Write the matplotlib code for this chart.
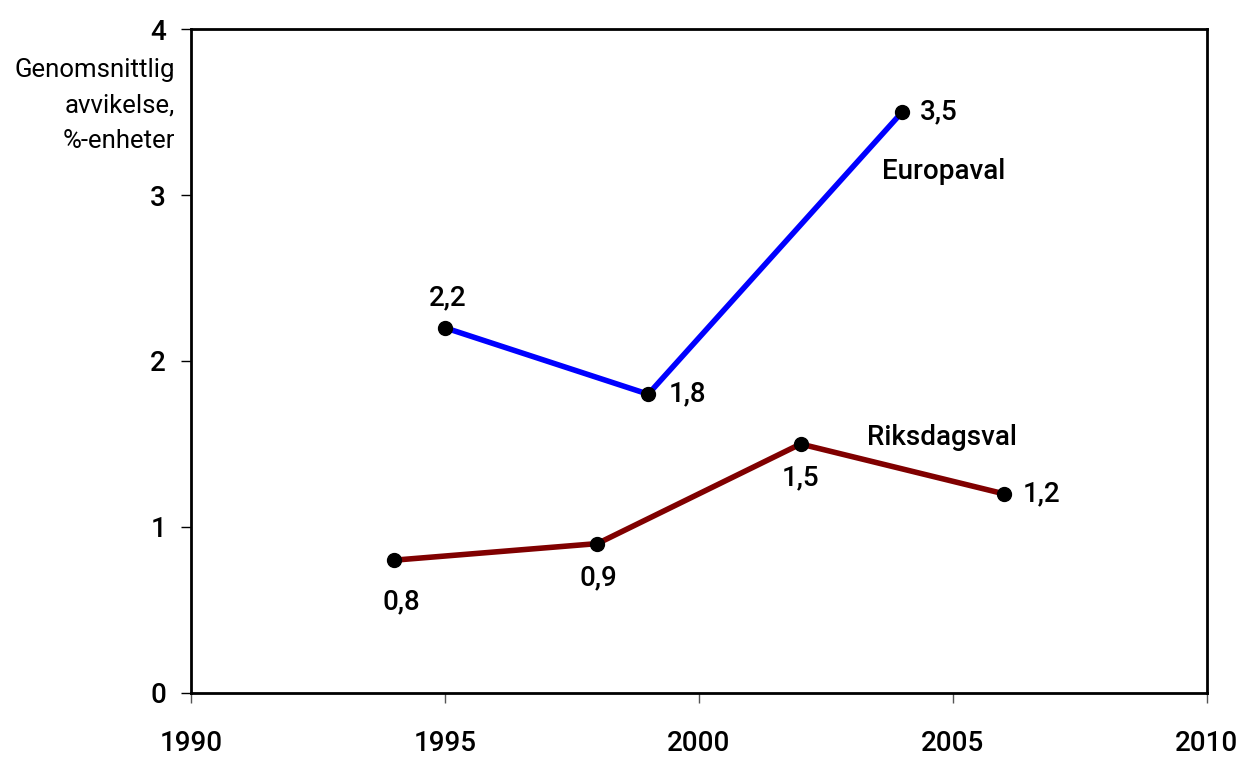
import matplotlib
matplotlib.use("Agg")
import matplotlib.pyplot as plt

plt.rcParams['font.family'] = ['Roboto', 'DejaVu Sans']
plt.rcParams['font.weight'] = 'medium'

# Europaval
ar_eu = [1995, 1999, 2004]
avv_eu = [2.2, 1.8, 3.5]
etik_eu = ["2,2", "1,8", "3,5"]
# Riksdagsval
ar_rd = [1994, 1998, 2002, 2006]
avv_rd = [0.8, 0.9, 1.5, 1.2]
etik_rd = ["0,8", "0,9", "1,5", "1,2"]

x_ticks = [1990, 1995, 2000, 2005, 2010]
y_ticks = [0, 1, 2, 3, 4]

fig = plt.figure(figsize=(12.42, 7.58), dpi=100)
ax = fig.add_axes([0.1538, 0.0858, 0.818, 0.8759])

ax.plot(ar_eu, avv_eu, color="#0000FF", lw=4, zorder=2)
ax.plot(ar_rd, avv_rd, color="#800000", lw=4, zorder=2)
ax.scatter(ar_eu + ar_rd, avv_eu + avv_rd, s=100, color="black", zorder=3)

# posicion de cada etiqueta respecto al punto (pixeles)
despl_eu = [((3, 30), "center"), ((20, 0), "left"), ((18, 0), "left")]
despl_rd = [((7, -42), "center"), ((1, -34), "center"), ((0, -34), "center"), ((19, 0), "left")]

for x, y, t, (d, ha) in zip(ar_eu, avv_eu, etik_eu, despl_eu):
    ax.annotate(t, (x, y), xytext=d, textcoords="offset pixels",
                ha=ha, va="center", fontsize=20)
for x, y, t, (d, ha) in zip(ar_rd, avv_rd, etik_rd, despl_rd):
    ax.annotate(t, (x, y), xytext=d, textcoords="offset pixels",
                ha=ha, va="center", fontsize=20)

ax.text(2003.6, 3.14, "Europaval", fontsize=20, va="center", ha="left")
ax.text(2003.31, 1.54, "Riksdagsval", fontsize=20, va="center", ha="left")

ax.set_xlim(1990, 2010)
ax.set_ylim(0, 4)
ax.set_xticks(x_ticks)
ax.set_yticks(y_ticks)
ax.tick_params(axis="x", direction="out", length=7, width=1, color="#555555",
               pad=20, labelsize=20)
ax.tick_params(axis="y", direction="out", length=7, width=1, color="black",
               pad=11, labelsize=20)
for s in ax.spines.values():
    s.set_linewidth(2)

fig.text(175 / 1242, 1 - 58 / 758, "Genomsnittlig\navvikelse,\n%-enheter",
         ha="right", va="top", multialignment="right", fontsize=18.5,
         fontweight="normal", linespacing=1.6)

fig.savefig("out.png", dpi=100)
